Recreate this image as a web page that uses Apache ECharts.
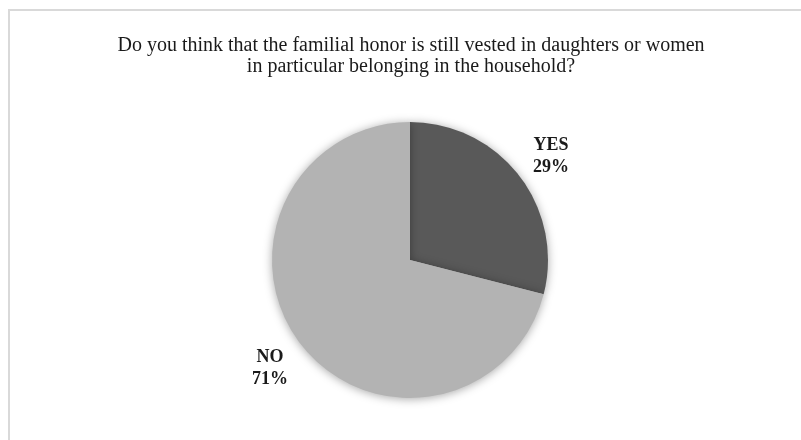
<!DOCTYPE html>
<html>
<head>
<meta charset="utf-8">
<script src="https://cdn.jsdelivr.net/npm/echarts@6/dist/echarts.min.js"></script>
<style>
  html, body { margin: 0; padding: 0; background: #fff; }
  #chart { width: 801px; height: 440px; }
</style>
</head>
<body>
<div id="chart"></div>
<script>
// Survey answers and their shares (percent)
const categories = ['YES', 'NO'];
const shares = [29, 71];
const sliceColors = ['#595959', '#b3b3b3'];
const titleLines = [
  'Do you think that the familial honor is still vested in daughters or women',
  'in particular belonging in the household?'
];

const chart = echarts.init(document.getElementById('chart'), null, { renderer: 'canvas' });

// Label anchor points beside each slice
const labelSpots = [
  { x: 551, y: 156 },
  { x: 270, y: 368 }
];

chart.setOption({
  animation: false,
  title: {
    text: titleLines.join('\n'),
    left: 406,
    top: 30,
    textAlign: 'center',
    textStyle: {
      fontFamily: '"Liberation Serif", "Times New Roman", serif',
      fontSize: 20,
      fontWeight: 'normal',
      color: '#1a1a1a',
      lineHeight: 21
    }
  },
  graphic: [{
    type: 'rect',
    shape: { x: 9, y: 10, width: 900, height: 600 },
    style: { fill: 'none', stroke: '#d9d9d9', lineWidth: 2 },
    silent: true,
    z: -1
  }],
  series: [{
    type: 'pie',
    center: [410, 260],
    radius: 138,
    startAngle: 90,
    clockwise: true,
    data: categories.map((name, i) => ({
      name,
      value: shares[i],
      itemStyle: { color: sliceColors[i] }
    })),
    itemStyle: {
      borderWidth: 0,
      shadowBlur: 10,
      shadowColor: 'rgba(0,0,0,0.35)',
      shadowOffsetX: 0,
      shadowOffsetY: 1
    },
    label: {
      show: true,
      position: 'outside',
      formatter: p => p.name + '\n' + p.value + '%',
      fontFamily: '"Liberation Serif", "Times New Roman", serif',
      fontSize: 18,
      fontWeight: 'bold',
      color: '#1a1a1a',
      lineHeight: 22,
      align: 'center'
    },
    labelLine: { show: false },
    labelLayout: p => ({
      x: labelSpots[p.dataIndex].x,
      y: labelSpots[p.dataIndex].y,
      align: 'center',
      verticalAlign: 'middle'
    }),
    emphasis: { disabled: true }
  }]
});
</script>
</body>
</html>
